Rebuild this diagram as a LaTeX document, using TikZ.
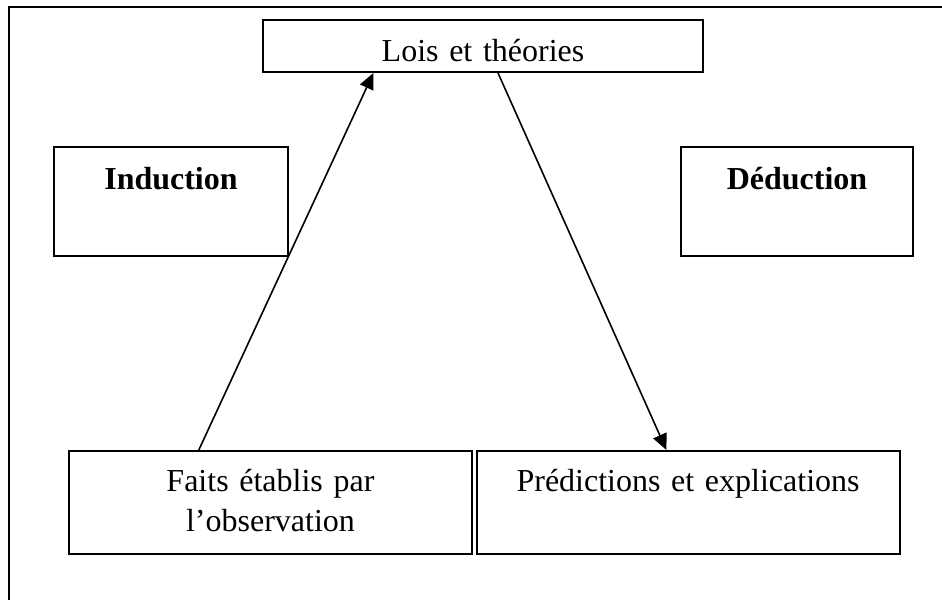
\documentclass[tikz,border=0pt]{standalone}
\usepackage{fontspec}
\setmainfont{Liberation Serif}
\usepackage{tikz}
\usetikzlibrary{positioning}
\usetikzlibrary{calc}
\usetikzlibrary{arrows.meta}
\tikzstyle{cadre} = [rectangle, draw=black, line width=0.75pt, inner sep=0pt, anchor=north west, align=center, font=\fontsize{12}{15}\selectfont]
\tikzstyle{titre} = [cadre, text width=87pt, text height=15.75pt, text depth=25.1pt, font=\fontsize{12}{15}\selectfont\bfseries]
\tikzstyle{bas} = [cadre, text height=15pt, text depth=23.6pt]
\tikzstyle{fleche} = [line width=0.6pt, -{Triangle[length=6pt,width=5.4pt]}]

\begin{document}
\begin{tikzpicture}[x=0.375pt, y=-0.375pt]
        \clip[use as bounding box] (0,0) rectangle (942,599);
        \draw [line width=0.75pt] (9,7) rectangle (980,640);

        \node (lois) [cadre, text width=165pt, text height=15.4pt, text depth=4.1pt] at (262,19) {Lois et théories};
        \node (induction) [titre, text width=87.75pt] at (53,146) {Induction};
        \node (deduction) [titre] at (680,146) {Déduction};
        \node (faits) [bas, text width=151.1pt] at (68,450) {Faits établis par\\l’observation};
        \node (predictions) [bas, text width=158.6pt, right=1pt of faits] {Prédictions et explications};

        \draw [fleche] ($(faits.north west)!0.323!(faits.north east)$) -- ($(lois.south west)!0.252!(lois.south east)$);
        \draw [fleche] ($(lois.south west)!0.534!(lois.south east)$) -- ($(predictions.north west)!0.449!(predictions.north east)$);
    \end{tikzpicture}
\end{document}
